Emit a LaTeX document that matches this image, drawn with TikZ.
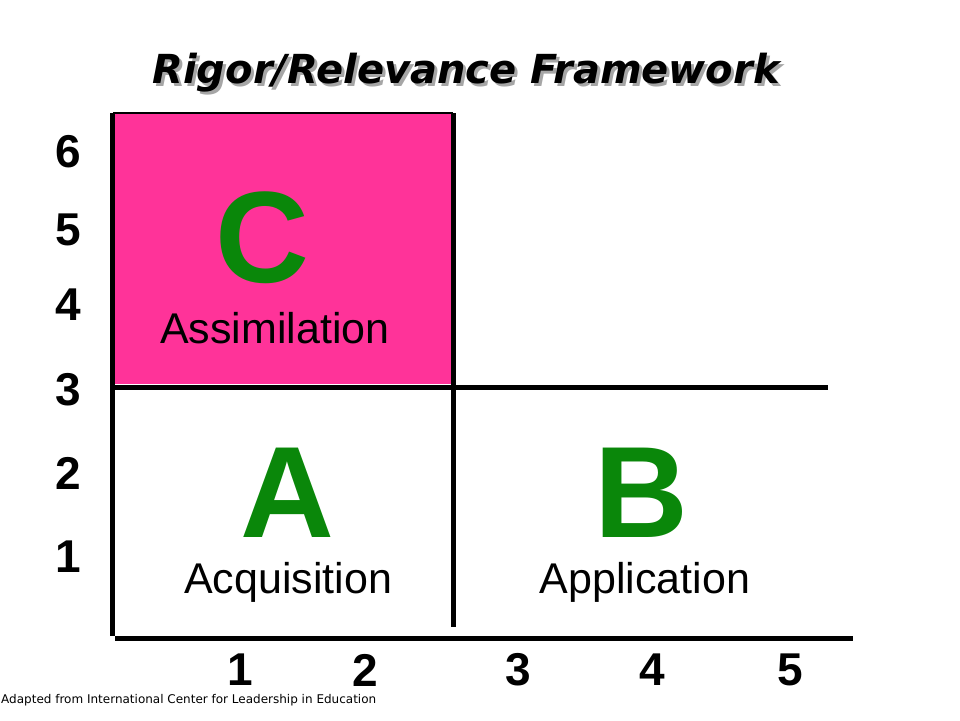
\documentclass[tikz,border=0pt]{standalone}
\usepackage{fontspec}
\setmainfont{Liberation Sans}
\newfontfamily\titlefont{DejaVu Sans}
\usepackage{tikz}

\definecolor{rrpink}{RGB}{255,51,153}
\definecolor{rrgreen}{RGB}{10,135,10}

\newcommand{\shadowed}[1]{\makebox[0pt][l]{\hspace{3pt}\raisebox{-3pt}{\color{gray!70}#1}}#1}

\begin{document}
\begin{tikzpicture}[x=1pt,y=-1pt,
  letter/.style={text=rrgreen,font=\fontsize{130}{130}\selectfont\bfseries},
  quadname/.style={font=\fontsize{43}{43}\selectfont},
  tick/.style={font=\fontsize{46}{46}\selectfont\bfseries},
  axis/.style={line width=5pt}]

\useasboundingbox (0,0) rectangle (960,720);

\def\pinkbox{(113,113) rectangle (453,384)}

\begin{scope}
\fill[rrpink] \pinkbox;
\draw[line width=1.5pt] (113,113) -- (453,113);
\end{scope}

% frame
\draw[axis] (112,113) -- (112,636);
\draw[axis] (453,113) -- (453,627);
\draw[axis] (112,387) -- (828,387);
\draw[axis] (115,638) -- (853,638);

% title with shadow
\node[font=\titlefont\fontsize{40}{40}\selectfont\bfseries\itshape] (title) at (466,74) {\shadowed{Rigor/Relevance Framework}};

% quadrants
\node[letter] (C) at (262,238) {C};
\node[quadname] (assim) at (275,328) {Assimilation};
\node[letter] (A) at (287,493) {A};
\node[quadname] (acq) at (288,582) {Acquisition};
\node[letter] (B) at (641,493) {B};
\node[quadname] (app) at (645,582) {Application};

% axis numbers
\foreach \n/\y in {6/152,5/230,4/305,3/390,2/473,1/557}
  \node[tick] (y\n) at (68,\y) {\n};
\foreach \n/\x in {1/240,2/365,3/518,4/652,5/790}
  \node[tick] (x\n) at (\x,670) {\n};

\node[anchor=west, inner sep=1pt, font=\titlefont\fontsize{12}{12}\selectfont] (source) at (0,700) {Adapted from International Center for Leadership in Education};

\end{tikzpicture}
\end{document}
